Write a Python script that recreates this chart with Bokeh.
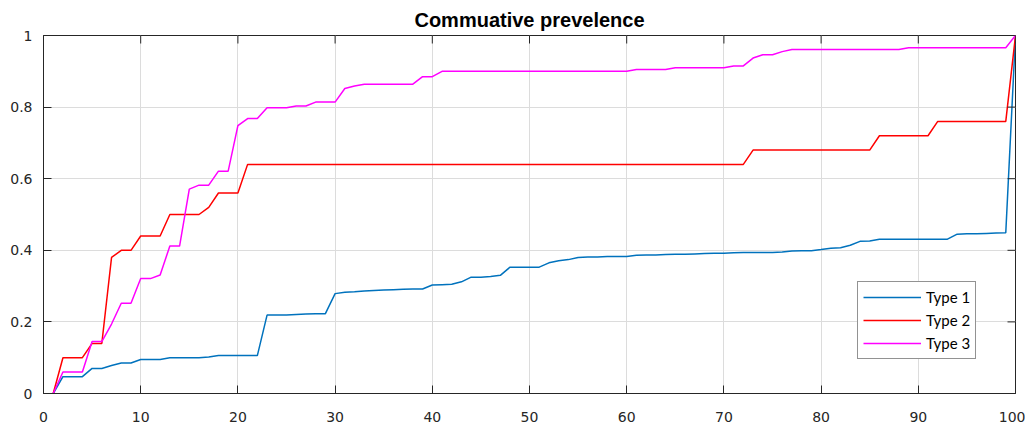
from bokeh.plotting import figure
from bokeh.models import Range1d, FixedTicker, Legend, LegendItem
from bokeh.embed import file_html
from bokeh.resources import INLINE

# ---------------- data ----------------
x_vals = list(range(1, 101))

type1 = [0, 0.047, 0.047, 0.047, 0.07, 0.07, 0.078, 0.085, 0.085, 0.095,
         0.095, 0.095, 0.1, 0.1, 0.1, 0.1, 0.102, 0.106, 0.106, 0.106,
         0.106, 0.106, 0.219, 0.219, 0.219, 0.221, 0.222, 0.223, 0.223, 0.279,
         0.283, 0.284, 0.286, 0.288, 0.289, 0.29, 0.291, 0.292, 0.292, 0.303,
         0.304, 0.305, 0.312, 0.325, 0.325, 0.327, 0.33, 0.353, 0.353, 0.353,
         0.353, 0.365, 0.371, 0.374, 0.38, 0.381, 0.381, 0.383, 0.383, 0.383,
         0.386, 0.387, 0.387, 0.388, 0.389, 0.389, 0.39, 0.391, 0.392, 0.392,
         0.393, 0.394, 0.394, 0.394, 0.394, 0.395, 0.398, 0.399, 0.399, 0.402,
         0.406, 0.407, 0.414, 0.425, 0.426, 0.431, 0.431, 0.431, 0.431, 0.431,
         0.431, 0.431, 0.431, 0.445, 0.446, 0.446, 0.447, 0.448, 0.449, 1.0]

type2 = [0, 0.1, 0.1, 0.1, 0.14, 0.14, 0.38, 0.4, 0.4, 0.44,
         0.44, 0.44, 0.5, 0.5, 0.5, 0.5, 0.52, 0.56, 0.56, 0.56,
         0.64, 0.64, 0.64, 0.64, 0.64, 0.64, 0.64, 0.64, 0.64, 0.64,
         0.64, 0.64, 0.64, 0.64, 0.64, 0.64, 0.64, 0.64, 0.64, 0.64,
         0.64, 0.64, 0.64, 0.64, 0.64, 0.64, 0.64, 0.64, 0.64, 0.64,
         0.64, 0.64, 0.64, 0.64, 0.64, 0.64, 0.64, 0.64, 0.64, 0.64,
         0.64, 0.64, 0.64, 0.64, 0.64, 0.64, 0.64, 0.64, 0.64, 0.64,
         0.64, 0.64, 0.68, 0.68, 0.68, 0.68, 0.68, 0.68, 0.68, 0.68,
         0.68, 0.68, 0.68, 0.68, 0.68, 0.72, 0.72, 0.72, 0.72, 0.72,
         0.72, 0.76, 0.76, 0.76, 0.76, 0.76, 0.76, 0.76, 0.76, 1.0]

type3 = [0, 0.06, 0.06, 0.06, 0.145, 0.145, 0.194, 0.252, 0.252, 0.321,
         0.321, 0.331, 0.412, 0.412, 0.571, 0.582, 0.582, 0.621, 0.621, 0.748,
         0.768, 0.768, 0.798, 0.798, 0.798, 0.803, 0.803, 0.814, 0.814, 0.814,
         0.852, 0.859, 0.864, 0.864, 0.864, 0.864, 0.864, 0.864, 0.885, 0.885,
         0.9, 0.9, 0.9, 0.9, 0.9, 0.9, 0.9, 0.9, 0.9, 0.9,
         0.9, 0.9, 0.9, 0.9, 0.9, 0.9, 0.9, 0.9, 0.9, 0.9,
         0.905, 0.905, 0.905, 0.905, 0.91, 0.91, 0.91, 0.91, 0.91, 0.91,
         0.915, 0.915, 0.937, 0.946, 0.946, 0.955, 0.961, 0.961, 0.961, 0.961,
         0.961, 0.961, 0.961, 0.961, 0.961, 0.961, 0.961, 0.961, 0.966, 0.966,
         0.966, 0.966, 0.966, 0.966, 0.966, 0.966, 0.966, 0.966, 0.966, 1.0]

series_names = ["Type 1", "Type 2", "Type 3"]
series_colors = ["#0072BD", "#FF0000", "#FF00FF"]

x_ticks = [0, 10, 20, 30, 40, 50, 60, 70, 80, 90, 100]
x_tick_labels = ["0", "10", "20", "30", "40", "50", "60", "70", "80", "90", "100"]
y_ticks = [0, 0.2, 0.4, 0.6, 0.8, 1]
y_tick_labels = ["0", "0.2", "0.4", "0.6", "0.8", "1"]

title_text = "Commuative prevelence"

# ---------------- figure ----------------
AX = "#262626"
TICK_LEN = 8

p = figure(frame_width=972, frame_height=358,
           x_range=Range1d(min(x_ticks), max(x_ticks)),
           y_range=Range1d(min(y_ticks), max(y_ticks)),
           output_backend="svg", toolbar_location=None,
           min_border_left=43, min_border_right=10,
           min_border_top=35, min_border_bottom=30)

p.background_fill_color = "white"
p.border_fill_color = "white"
p.outline_line_color = AX
p.outline_line_width = 1

p.title.text = title_text
p.title.align = "center"
p.title.text_font = "Liberation Sans"
p.title.text_font_style = "bold"
p.title.text_font_size = "20px"
p.title.text_color = "black"
p.title.standoff = 9


def style_axis(ax, ticks, labels):
    ax.ticker = FixedTicker(ticks=ticks)
    ax.major_label_overrides = {t: l for t, l in zip(ticks, labels)}
    ax.major_tick_in = TICK_LEN
    ax.major_tick_out = 0
    ax.minor_tick_line_color = None
    ax.axis_line_color = AX
    ax.major_tick_line_color = AX
    ax.major_label_text_font = "DejaVu Sans"
    ax.major_label_text_color = AX
    ax.major_label_text_font_size = "14px"


style_axis(p.xaxis[0], x_ticks, x_tick_labels)
p.xaxis[0].major_label_standoff = 18
style_axis(p.yaxis[0], y_ticks, y_tick_labels)
p.yaxis[0].major_label_standoff = 11

p.xgrid.ticker = FixedTicker(ticks=x_ticks)
p.ygrid.ticker = FixedTicker(ticks=y_ticks)
p.xgrid.grid_line_color = "#dcdcdc"
p.ygrid.grid_line_color = "#dcdcdc"
p.xgrid.grid_line_width = 1
p.ygrid.grid_line_width = 1

renderers = []
for series, color in zip([type1, type2, type3], series_colors):
    r = p.line(x_vals, series, line_color=color, line_width=1.5)
    renderers.append(r)

# inward ticks on the top and right edges of the box (MATLAB style),
# drawn as dash markers centred on the frame edge; the outer half is clipped
p.scatter(x=x_ticks, y=[max(y_ticks)] * len(x_ticks), marker="dash",
          angle=1.5707963, size=2 * TICK_LEN, line_color=AX, line_width=1)
p.scatter(x=[max(x_ticks)] * len(y_ticks), y=y_ticks, marker="dash",
          size=2 * TICK_LEN, line_color=AX, line_width=1)

legend = Legend(items=[LegendItem(label=n, renderers=[r])
                       for n, r in zip(series_names, renderers)],
                location=(814, 34))
legend.border_line_color = AX
legend.border_line_width = 1
legend.background_fill_color = "white"
legend.background_fill_alpha = 1
legend.glyph_width = 58
legend.glyph_height = 20
legend.label_height = 20
legend.spacing = 3
legend.padding = 5
legend.margin = 0
legend.label_standoff = 5
legend.label_text_font = "Lato"
legend.label_text_font_size = "15px"
legend.label_text_color = "black"
p.add_layout(legend)

open("out.html", "w").write(file_html(p, INLINE))
